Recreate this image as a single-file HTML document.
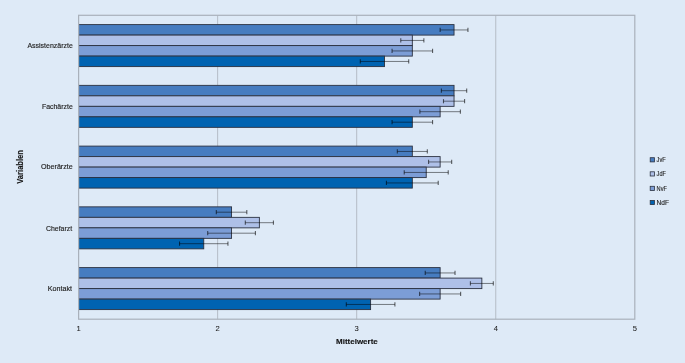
<!DOCTYPE html><html><head><meta charset="utf-8"><style>html,body{margin:0;padding:0;overflow:hidden;width:685px;height:363px;background:#deeaf7;}svg{display:block;will-change:transform;font-family:"Liberation Sans",sans-serif;}</style></head><body>
<svg width="685" height="363" viewBox="0 0 685 363">
<rect x="0" y="0" width="685" height="363" fill="#deeaf7"/>
<rect x="78.60" y="15.30" width="556.20" height="303.90" fill="#deeaf7"/>
<line x1="217.65" y1="15.30" x2="217.65" y2="319.20" stroke="#b4bcc6" stroke-width="1"/>
<line x1="356.70" y1="15.30" x2="356.70" y2="319.20" stroke="#b4bcc6" stroke-width="1"/>
<line x1="495.75" y1="15.30" x2="495.75" y2="319.20" stroke="#b4bcc6" stroke-width="1"/>
<rect x="78.60" y="24.60" width="375.44" height="10.50" fill="#467cc0" stroke="#2b3140" stroke-width="0.9"/>
<rect x="78.60" y="35.10" width="333.72" height="10.50" fill="#aec0e8" stroke="#2b3140" stroke-width="0.9"/>
<rect x="78.60" y="45.60" width="333.72" height="10.50" fill="#7c9dd6" stroke="#2b3140" stroke-width="0.9"/>
<rect x="78.60" y="56.10" width="305.91" height="10.50" fill="#0063b1" stroke="#2b3140" stroke-width="0.9"/>
<rect x="78.60" y="85.35" width="375.44" height="10.50" fill="#467cc0" stroke="#2b3140" stroke-width="0.9"/>
<rect x="78.60" y="95.85" width="375.44" height="10.50" fill="#aec0e8" stroke="#2b3140" stroke-width="0.9"/>
<rect x="78.60" y="106.35" width="361.53" height="10.50" fill="#7c9dd6" stroke="#2b3140" stroke-width="0.9"/>
<rect x="78.60" y="116.85" width="333.72" height="10.50" fill="#0063b1" stroke="#2b3140" stroke-width="0.9"/>
<rect x="78.60" y="146.10" width="333.72" height="10.50" fill="#467cc0" stroke="#2b3140" stroke-width="0.9"/>
<rect x="78.60" y="156.60" width="361.53" height="10.50" fill="#aec0e8" stroke="#2b3140" stroke-width="0.9"/>
<rect x="78.60" y="167.10" width="347.62" height="10.50" fill="#7c9dd6" stroke="#2b3140" stroke-width="0.9"/>
<rect x="78.60" y="177.60" width="333.72" height="10.50" fill="#0063b1" stroke="#2b3140" stroke-width="0.9"/>
<rect x="78.60" y="206.85" width="152.96" height="10.50" fill="#467cc0" stroke="#2b3140" stroke-width="0.9"/>
<rect x="78.60" y="217.35" width="180.77" height="10.50" fill="#aec0e8" stroke="#2b3140" stroke-width="0.9"/>
<rect x="78.60" y="227.85" width="152.96" height="10.50" fill="#7c9dd6" stroke="#2b3140" stroke-width="0.9"/>
<rect x="78.60" y="238.35" width="125.15" height="10.50" fill="#0063b1" stroke="#2b3140" stroke-width="0.9"/>
<rect x="78.60" y="267.60" width="361.53" height="10.50" fill="#467cc0" stroke="#2b3140" stroke-width="0.9"/>
<rect x="78.60" y="278.10" width="403.25" height="10.50" fill="#aec0e8" stroke="#2b3140" stroke-width="0.9"/>
<rect x="78.60" y="288.60" width="361.53" height="10.50" fill="#7c9dd6" stroke="#2b3140" stroke-width="0.9"/>
<rect x="78.60" y="299.10" width="292.00" height="10.50" fill="#0063b1" stroke="#2b3140" stroke-width="0.9"/>
<line x1="440.14" y1="29.95" x2="467.94" y2="29.95" stroke="#000" stroke-opacity="0.55" stroke-width="0.9"/>
<line x1="440.14" y1="27.85" x2="440.14" y2="32.05" stroke="#000" stroke-opacity="0.6" stroke-width="1.1"/>
<line x1="467.94" y1="27.85" x2="467.94" y2="32.05" stroke="#000" stroke-opacity="0.6" stroke-width="1.1"/>
<line x1="400.77" y1="40.45" x2="423.87" y2="40.45" stroke="#000" stroke-opacity="0.55" stroke-width="0.9"/>
<line x1="400.77" y1="38.35" x2="400.77" y2="42.55" stroke="#000" stroke-opacity="0.6" stroke-width="1.1"/>
<line x1="423.87" y1="38.35" x2="423.87" y2="42.55" stroke="#000" stroke-opacity="0.6" stroke-width="1.1"/>
<line x1="392.07" y1="50.95" x2="432.57" y2="50.95" stroke="#000" stroke-opacity="0.55" stroke-width="0.9"/>
<line x1="392.07" y1="48.85" x2="392.07" y2="53.05" stroke="#000" stroke-opacity="0.6" stroke-width="1.1"/>
<line x1="432.57" y1="48.85" x2="432.57" y2="53.05" stroke="#000" stroke-opacity="0.6" stroke-width="1.1"/>
<line x1="360.31" y1="61.45" x2="408.71" y2="61.45" stroke="#000" stroke-opacity="0.55" stroke-width="0.9"/>
<line x1="360.31" y1="59.35" x2="360.31" y2="63.55" stroke="#000" stroke-opacity="0.6" stroke-width="1.1"/>
<line x1="408.71" y1="59.35" x2="408.71" y2="63.55" stroke="#000" stroke-opacity="0.6" stroke-width="1.1"/>
<line x1="441.39" y1="90.70" x2="466.69" y2="90.70" stroke="#000" stroke-opacity="0.55" stroke-width="0.9"/>
<line x1="441.39" y1="88.60" x2="441.39" y2="92.80" stroke="#000" stroke-opacity="0.6" stroke-width="1.1"/>
<line x1="466.69" y1="88.60" x2="466.69" y2="92.80" stroke="#000" stroke-opacity="0.6" stroke-width="1.1"/>
<line x1="443.49" y1="101.20" x2="464.59" y2="101.20" stroke="#000" stroke-opacity="0.55" stroke-width="0.9"/>
<line x1="443.49" y1="99.10" x2="443.49" y2="103.30" stroke="#000" stroke-opacity="0.6" stroke-width="1.1"/>
<line x1="464.59" y1="99.10" x2="464.59" y2="103.30" stroke="#000" stroke-opacity="0.6" stroke-width="1.1"/>
<line x1="419.88" y1="111.70" x2="460.38" y2="111.70" stroke="#000" stroke-opacity="0.55" stroke-width="0.9"/>
<line x1="419.88" y1="109.60" x2="419.88" y2="113.80" stroke="#000" stroke-opacity="0.6" stroke-width="1.1"/>
<line x1="460.38" y1="109.60" x2="460.38" y2="113.80" stroke="#000" stroke-opacity="0.6" stroke-width="1.1"/>
<line x1="392.07" y1="122.20" x2="432.57" y2="122.20" stroke="#000" stroke-opacity="0.55" stroke-width="0.9"/>
<line x1="392.07" y1="120.10" x2="392.07" y2="124.30" stroke="#000" stroke-opacity="0.6" stroke-width="1.1"/>
<line x1="432.57" y1="120.10" x2="432.57" y2="124.30" stroke="#000" stroke-opacity="0.6" stroke-width="1.1"/>
<line x1="397.32" y1="151.45" x2="427.32" y2="151.45" stroke="#000" stroke-opacity="0.55" stroke-width="0.9"/>
<line x1="397.32" y1="149.35" x2="397.32" y2="153.55" stroke="#000" stroke-opacity="0.6" stroke-width="1.1"/>
<line x1="427.32" y1="149.35" x2="427.32" y2="153.55" stroke="#000" stroke-opacity="0.6" stroke-width="1.1"/>
<line x1="428.58" y1="161.95" x2="451.68" y2="161.95" stroke="#000" stroke-opacity="0.55" stroke-width="0.9"/>
<line x1="428.58" y1="159.85" x2="428.58" y2="164.05" stroke="#000" stroke-opacity="0.6" stroke-width="1.1"/>
<line x1="451.68" y1="159.85" x2="451.68" y2="164.05" stroke="#000" stroke-opacity="0.6" stroke-width="1.1"/>
<line x1="404.23" y1="172.45" x2="448.23" y2="172.45" stroke="#000" stroke-opacity="0.55" stroke-width="0.9"/>
<line x1="404.23" y1="170.35" x2="404.23" y2="174.55" stroke="#000" stroke-opacity="0.6" stroke-width="1.1"/>
<line x1="448.23" y1="170.35" x2="448.23" y2="174.55" stroke="#000" stroke-opacity="0.6" stroke-width="1.1"/>
<line x1="386.42" y1="182.95" x2="438.22" y2="182.95" stroke="#000" stroke-opacity="0.55" stroke-width="0.9"/>
<line x1="386.42" y1="180.85" x2="386.42" y2="185.05" stroke="#000" stroke-opacity="0.6" stroke-width="1.1"/>
<line x1="438.22" y1="180.85" x2="438.22" y2="185.05" stroke="#000" stroke-opacity="0.6" stroke-width="1.1"/>
<line x1="216.31" y1="212.20" x2="246.81" y2="212.20" stroke="#000" stroke-opacity="0.55" stroke-width="0.9"/>
<line x1="216.31" y1="210.10" x2="216.31" y2="214.30" stroke="#000" stroke-opacity="0.6" stroke-width="1.1"/>
<line x1="246.81" y1="210.10" x2="246.81" y2="214.30" stroke="#000" stroke-opacity="0.6" stroke-width="1.1"/>
<line x1="245.31" y1="222.70" x2="273.42" y2="222.70" stroke="#000" stroke-opacity="0.55" stroke-width="0.9"/>
<line x1="245.31" y1="220.60" x2="245.31" y2="224.80" stroke="#000" stroke-opacity="0.6" stroke-width="1.1"/>
<line x1="273.42" y1="220.60" x2="273.42" y2="224.80" stroke="#000" stroke-opacity="0.6" stroke-width="1.1"/>
<line x1="207.71" y1="233.20" x2="255.41" y2="233.20" stroke="#000" stroke-opacity="0.55" stroke-width="0.9"/>
<line x1="207.71" y1="231.10" x2="207.71" y2="235.30" stroke="#000" stroke-opacity="0.6" stroke-width="1.1"/>
<line x1="255.41" y1="231.10" x2="255.41" y2="235.30" stroke="#000" stroke-opacity="0.6" stroke-width="1.1"/>
<line x1="179.55" y1="243.70" x2="227.94" y2="243.70" stroke="#000" stroke-opacity="0.55" stroke-width="0.9"/>
<line x1="179.55" y1="241.60" x2="179.55" y2="245.80" stroke="#000" stroke-opacity="0.6" stroke-width="1.1"/>
<line x1="227.94" y1="241.60" x2="227.94" y2="245.80" stroke="#000" stroke-opacity="0.6" stroke-width="1.1"/>
<line x1="425.23" y1="272.95" x2="455.03" y2="272.95" stroke="#000" stroke-opacity="0.55" stroke-width="0.9"/>
<line x1="425.23" y1="270.85" x2="425.23" y2="275.05" stroke="#000" stroke-opacity="0.6" stroke-width="1.1"/>
<line x1="455.03" y1="270.85" x2="455.03" y2="275.05" stroke="#000" stroke-opacity="0.6" stroke-width="1.1"/>
<line x1="470.40" y1="283.45" x2="493.30" y2="283.45" stroke="#000" stroke-opacity="0.55" stroke-width="0.9"/>
<line x1="470.40" y1="281.35" x2="470.40" y2="285.55" stroke="#000" stroke-opacity="0.6" stroke-width="1.1"/>
<line x1="493.30" y1="281.35" x2="493.30" y2="285.55" stroke="#000" stroke-opacity="0.6" stroke-width="1.1"/>
<line x1="419.63" y1="293.95" x2="460.63" y2="293.95" stroke="#000" stroke-opacity="0.55" stroke-width="0.9"/>
<line x1="419.63" y1="291.85" x2="419.63" y2="296.05" stroke="#000" stroke-opacity="0.6" stroke-width="1.1"/>
<line x1="460.63" y1="291.85" x2="460.63" y2="296.05" stroke="#000" stroke-opacity="0.6" stroke-width="1.1"/>
<line x1="346.31" y1="304.45" x2="394.91" y2="304.45" stroke="#000" stroke-opacity="0.55" stroke-width="0.9"/>
<line x1="346.31" y1="302.35" x2="346.31" y2="306.55" stroke="#000" stroke-opacity="0.6" stroke-width="1.1"/>
<line x1="394.91" y1="302.35" x2="394.91" y2="306.55" stroke="#000" stroke-opacity="0.6" stroke-width="1.1"/>
<rect x="78.60" y="15.30" width="556.20" height="303.90" fill="none" stroke="#a9b1bb" stroke-width="1.2"/>
<text x="27.40" y="48.00" font-size="7.7" fill="#222" stroke="#222" stroke-width="0.15" textLength="45.40" lengthAdjust="spacingAndGlyphs">Assistenzärzte</text>
<text x="41.90" y="108.70" font-size="7.7" fill="#222" stroke="#222" stroke-width="0.15" textLength="30.90" lengthAdjust="spacingAndGlyphs">Fachärzte</text>
<text x="41.00" y="169.30" font-size="7.7" fill="#222" stroke="#222" stroke-width="0.15" textLength="31.80" lengthAdjust="spacingAndGlyphs">Oberärzte</text>
<text x="46.00" y="230.50" font-size="7.7" fill="#222" stroke="#222" stroke-width="0.15" textLength="26.10" lengthAdjust="spacingAndGlyphs">Chefarzt</text>
<text x="47.80" y="290.80" font-size="7.7" fill="#222" stroke="#222" stroke-width="0.15" textLength="24.30" lengthAdjust="spacingAndGlyphs">Kontakt</text>
<text x="78.60" y="331.4" font-size="7.6" fill="#222" stroke="#222" stroke-width="0.05" text-anchor="middle">1</text>
<text x="217.65" y="331.4" font-size="7.6" fill="#222" stroke="#222" stroke-width="0.05" text-anchor="middle">2</text>
<text x="356.70" y="331.4" font-size="7.6" fill="#222" stroke="#222" stroke-width="0.05" text-anchor="middle">3</text>
<text x="495.75" y="331.4" font-size="7.6" fill="#222" stroke="#222" stroke-width="0.05" text-anchor="middle">4</text>
<text x="634.80" y="331.4" font-size="7.6" fill="#222" stroke="#222" stroke-width="0.05" text-anchor="middle">5</text>
<text x="336.0" y="343.9" font-size="7.9" font-weight="bold" fill="#111" stroke="#111" stroke-width="0.12" textLength="41.8" lengthAdjust="spacingAndGlyphs">Mittelwerte</text>
<text transform="translate(22.9,183.8) rotate(-90)" x="0" y="0" font-size="8.4" font-weight="bold" fill="#111" stroke="#111" stroke-width="0.12" textLength="33.8" lengthAdjust="spacingAndGlyphs">Variablen</text>
<rect x="650.2" y="157.70" width="4.2" height="4.2" fill="#467cc0" stroke="#2b3140" stroke-width="0.8"/>
<text x="656.6" y="162.10" font-size="6.8" fill="#222" stroke="#222" stroke-width="0.12" textLength="9.2" lengthAdjust="spacingAndGlyphs">JvF</text>
<rect x="650.2" y="171.80" width="4.2" height="4.2" fill="#aec0e8" stroke="#2b3140" stroke-width="0.8"/>
<text x="656.6" y="176.20" font-size="6.8" fill="#222" stroke="#222" stroke-width="0.12" textLength="9.3" lengthAdjust="spacingAndGlyphs">JdF</text>
<rect x="650.2" y="186.30" width="4.2" height="4.2" fill="#7c9dd6" stroke="#2b3140" stroke-width="0.8"/>
<text x="656.6" y="190.70" font-size="6.8" fill="#222" stroke="#222" stroke-width="0.12" textLength="10.3" lengthAdjust="spacingAndGlyphs">NvF</text>
<rect x="650.2" y="200.40" width="4.2" height="4.2" fill="#0063b1" stroke="#2b3140" stroke-width="0.8"/>
<text x="656.6" y="204.80" font-size="6.8" fill="#222" stroke="#222" stroke-width="0.12" textLength="12.4" lengthAdjust="spacingAndGlyphs">NdF</text>
</svg></body></html>
